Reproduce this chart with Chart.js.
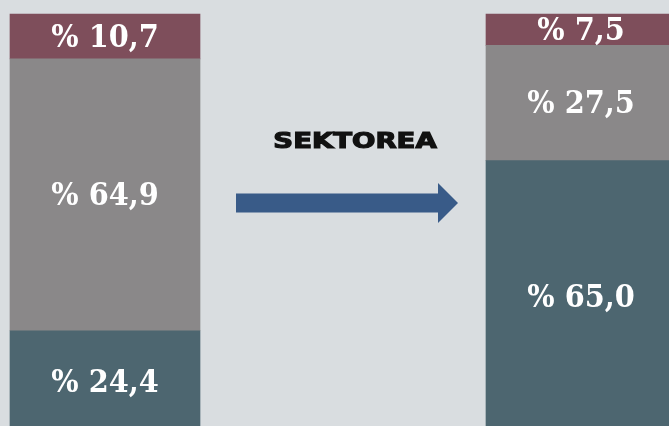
<!DOCTYPE html>
<html>
<head>
<meta charset="utf-8">
<script src="https://cdn.jsdelivr.net/npm/chart.js@4.4.1/dist/chart.umd.min.js"></script>
<style>
  html, body { margin: 0; padding: 0; background: #d9dde0; overflow: hidden; }
  #wrap { position: relative; width: 669px; height: 433px; }
</style>
</head>
<body>
<div id="wrap"><canvas id="chart"></canvas></div>
<script>
// two states, shares of sectors (bottom -> top)
const periods = ['Lehen', 'Orain'];
const sectorTeal = [24.4, 65.0];
const sectorGray = [64.9, 27.5];
const sectorRed = [10.7, 7.5];
const midLabel = 'SEKTOREA';

const fmt = v => '% ' + v.toFixed(1).replace('.', ',');

// white value labels in the middle of each segment
const segmentLabels = {
  id: 'segmentLabels',
  afterDatasetsDraw(chart) {
    const ctx = chart.ctx;
    ctx.save();
    ctx.fillStyle = '#ffffff';
    ctx.font = "bold 32px 'DejaVu Serif Condensed', 'DejaVu Serif', serif";
    ctx.textAlign = 'center';
    ctx.textBaseline = 'middle';
    chart.data.datasets.forEach((ds, di) => {
      chart.getDatasetMeta(di).data.forEach((bar, i) => {
        const y = (bar.y + bar.base) / 2;
        ctx.fillText(fmt(ds.data[i]), bar.x, y + 2);
      });
    });
    ctx.restore();
  }
};

// arrow + title between the two bars
const arrowPlugin = {
  id: 'arrowPlugin',
  afterDraw(chart) {
    const ctx = chart.ctx;
    const bars = chart.getDatasetMeta(0).data;
    const left = bars[0].x + bars[0].width / 2;
    const right = bars[1].x - bars[1].width / 2;
    const x0 = left + 36, x1 = right - 28;
    const cy = 203;
    ctx.save();
    ctx.fillStyle = '#395b88';
    ctx.beginPath();
    ctx.moveTo(x0, cy - 9.5);
    ctx.lineTo(x1 - 20, cy - 9.5);
    ctx.lineTo(x1 - 20, cy - 20);
    ctx.lineTo(x1, cy);
    ctx.lineTo(x1 - 20, cy + 20);
    ctx.lineTo(x1 - 20, cy + 9.5);
    ctx.lineTo(x0, cy + 9.5);
    ctx.closePath();
    ctx.fill();

    ctx.fillStyle = '#111111';
    ctx.strokeStyle = '#111111';
    ctx.lineWidth = 1.2;
    ctx.font = "bold 21px 'DejaVu Sans', sans-serif";
    ctx.textAlign = 'center';
    ctx.textBaseline = 'middle';
    ctx.translate((x0 + x1) / 2 + 8, 143);
    ctx.scale(1.31, 1);
    ctx.fillText(midLabel, 0, 0);
    ctx.strokeText(midLabel, 0, 0);
    ctx.restore();
  }
};

new Chart(document.getElementById('chart'), {
  type: 'bar',
  data: {
    labels: periods,
    datasets: [
      { data: sectorTeal, backgroundColor: '#4d6670' },
      { data: sectorGray, backgroundColor: '#8a8889' },
      { data: sectorRed, backgroundColor: '#7e4e5b' }
    ].map(d => ({ ...d, barThickness: 190, borderWidth: 0, clip: false }))
  },
  options: {
    responsive: true,
    maintainAspectRatio: false,
    animation: false,
    layout: { padding: { left: 105, right: 88, top: 14, bottom: 0 } },
    plugins: { legend: { display: false }, tooltip: { enabled: false } },
    scales: {
      x: { stacked: true, offset: false, display: false },
      y: { stacked: true, min: 0, max: 100, display: false }
    }
  },
  plugins: [segmentLabels, arrowPlugin]
});
</script>
</body>
</html>
